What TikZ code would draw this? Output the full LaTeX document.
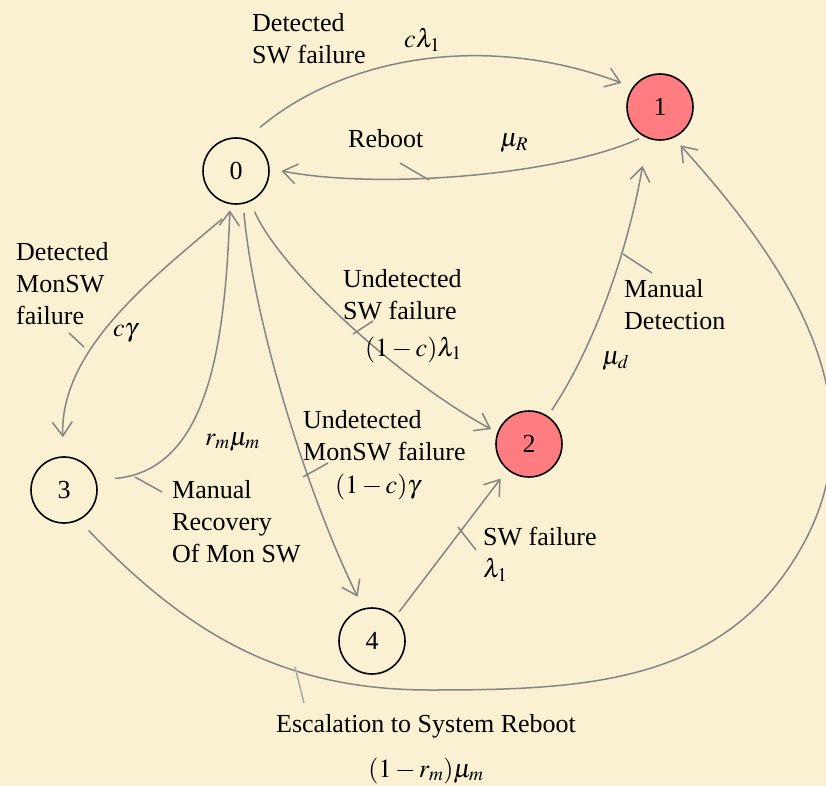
\documentclass[tikz,border=0pt]{standalone}
\usepackage{mathptmx}
\usepackage{fontspec}
\setmainfont{Liberation Serif}
\usetikzlibrary{arrows.meta}
\definecolor{paper}{HTML}{FAF0D2}
\definecolor{edgegray}{HTML}{858585}
\definecolor{failed}{HTML}{FF7C80}

\begin{document}
\begin{tikzpicture}[
  >={Straight Barb[length=14pt,width=20pt]},
  state/.style={circle,draw,line width=1.6pt,minimum size=66pt,inner sep=0pt},
  down/.style={fill=failed},
  tr/.style={->,draw=edgegray,line width=1.5pt},
  pin/.style={draw=edgegray,line width=1.5pt},
  lbl/.style={anchor=north west,align=left,inner sep=0pt},
  rate/.style={anchor=base west,inner sep=0pt},
  font=\fontsize{26}{32}\selectfont,
  x=1pt,y=-1pt]

% page and background
\useasboundingbox (0,0) rectangle (826,786);
\fill[paper] (0,0) rectangle (826,786);

% states
\node[state] (n0) at (236,171) {0};
\node[state,down] (n1) at (660,107) {1};
\node[state,down] (n2) at (529,444) {2};
\node[state] (n3) at (64,490) {3};
\node[state] (n4) at (372,641) {4};

% detected SW failure and reboot
\draw[tr,shorten <=18pt,shorten >=12pt] (n0.72) .. controls (340,60) and (480,30) .. (n1.144);
\draw[tr,shorten <=5pt,shorten >=12pt] (n1.241) .. controls (560,175) and (380,190) .. (n0.4);
\node[lbl] (dsw) at (252,13) {Detected\\SW failure};
\node[rate] (rc) at (404,48) {$c\lambda_1$};
\node[rate] (rbt) at (348,148) {Reboot};
\node[rate] (rmr) at (500,147) {$\mu_R$};
\coordinate (rbt1) at (400,163);
\coordinate (rbt2) at (429,180);
\draw[pin] (rbt1) -- (rbt2);

% monitor SW failure and manual recovery
\draw[tr,shorten <=22pt,shorten >=19pt] (n0.275) .. controls (150,280) and (60,350) .. (n3.91);
\draw[tr,shorten <=19pt,shorten >=6pt] (n3.17) .. controls (210,470) and (225,340) .. (n0.260);
\node[lbl] (dmon) at (16,242) {Detected\\MonSW\\failure};
\node[rate] (rcg) at (113,336) {$c\gamma$};
\coordinate (dmon1) at (69,333);
\coordinate (dmon2) at (84,347);
\draw[pin] (dmon1) -- (dmon2);
\node[lbl] (mrec) at (172,480) {Manual\\Recovery\\Of Mon SW};
\node[rate] (rrm) at (205,445) {$r_m\mu_m$};
\coordinate (mrec1) at (135,477);
\coordinate (mrec2) at (162,492);
\draw[pin] (mrec1) -- (mrec2);

% undetected failures
\draw[tr,shorten <=11pt,shorten >=7pt] (n0.295) .. controls (280,270) and (400,380) .. (n2.160);
\node[lbl] (usw) at (343,269) {Undetected\\SW failure};
\node[rate] (rusw) at (365,356) {$(1-c)\lambda_1$};
\coordinate (usw1) at (353,334);
\coordinate (usw2) at (373,321);
\draw[pin] (usw1) -- (usw2);
\draw[tr,shorten <=9pt,shorten >=13pt] (n0.282) .. controls (255,330) and (310,500) .. (n4.105);
\node[lbl] (umon) at (303,410) {Undetected\\MonSW failure};
\node[rate] (rumon) at (335,493) {$(1-c)\gamma$};
\coordinate (umon1) at (303,477);
\coordinate (umon2) at (328,463);
\draw[pin] (umon1) -- (umon2);

% SW failure from state 4
\draw[tr,shorten <=6pt,shorten >=11pt] (n4.46) -- (n2.230);
\node[lbl] (sw4) at (483,527) {SW failure\\$\lambda_1$};
\coordinate (sw41) at (458,527);
\coordinate (sw42) at (476,550);
\draw[pin] (sw41) -- (sw42);

% manual detection
\draw[tr,shorten <=7pt,shorten >=28pt] (n2.56) .. controls (595,345) and (628,250) .. (n1.248);
\node[lbl] (mdet) at (624,279) {Manual\\Detection};
\node[rate] (rmd) at (602,364) {$\mu_d$};
\coordinate (mdet1) at (623,254);
\coordinate (mdet2) at (652,273);
\draw[pin] (mdet1) -- (mdet2);

% escalation to system reboot
\coordinate (esc1) at (430,690);
\coordinate (esc2) at (800,550);
\draw[tr,shorten <=14pt,shorten >=10pt] (n3.296) to[out=-46,in=180] (esc1)
  to[out=0,in=240] (esc2) to[out=60,in=-48] (n1.294);
\node[anchor=base] (esc) at (426,732) {Escalation to System Reboot};
\node[anchor=base] (resc) at (426,777) {$(1-r_m)\mu_m$};
\coordinate (esc3) at (295,667);
\coordinate (esc4) at (304,703);
\draw[pin,edgegray!70] (esc3) -- (esc4);
\end{tikzpicture}
\end{document}
